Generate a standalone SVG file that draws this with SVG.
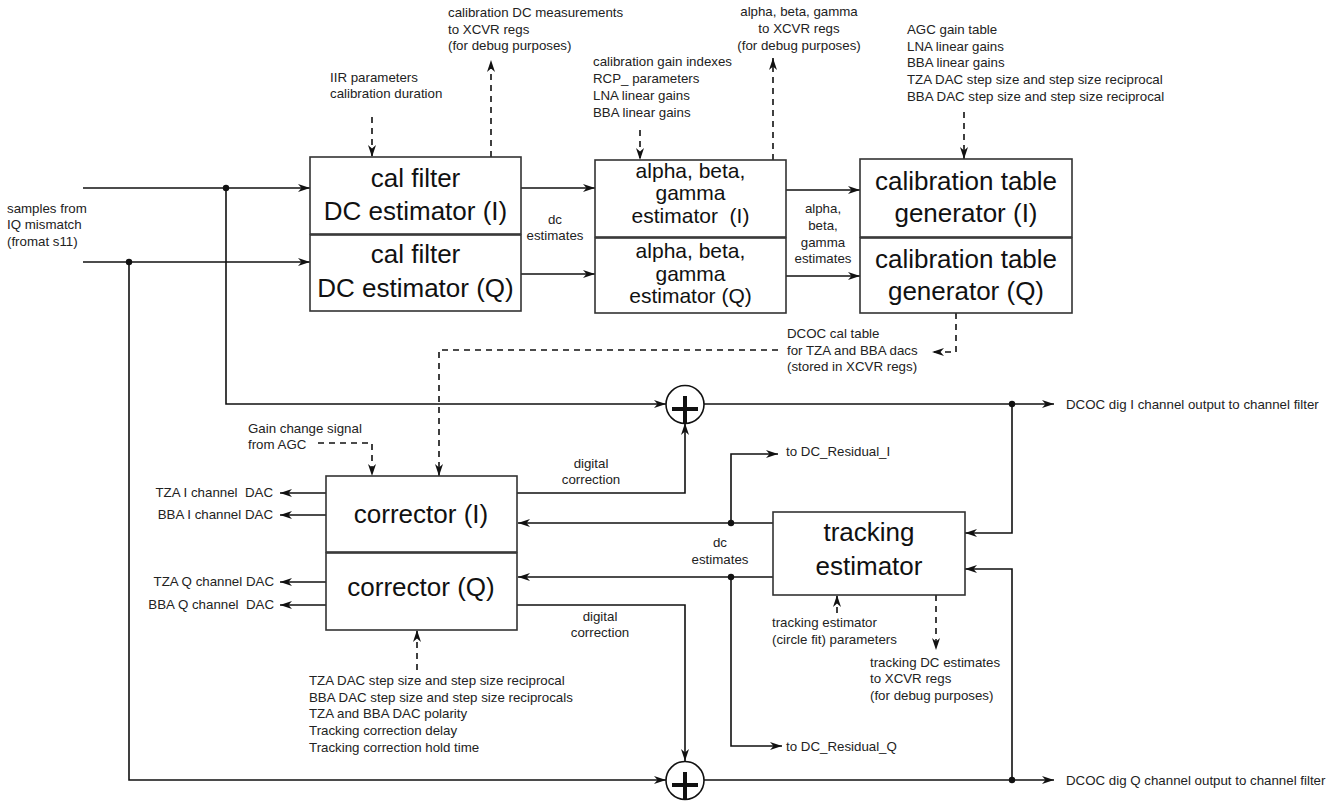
<svg xmlns="http://www.w3.org/2000/svg" width="1331" height="801" viewBox="0 0 1331 801">
<defs>
<marker id="ah" viewBox="0 0 12 8" refX="12" refY="4" markerWidth="12" markerHeight="8" markerUnits="userSpaceOnUse" orient="auto"><path d="M0,0 L12,4 L0,8 L3.5,4 z" fill="#111"/></marker>
</defs>
<style>
.box{fill:#fff;stroke:#333;stroke-width:1.6}
.big{font-family:"Liberation Sans",Arial,Helvetica,sans-serif;font-size:26px;fill:#111;text-anchor:middle}
.mid{font-family:"Liberation Sans",Arial,Helvetica,sans-serif;font-size:21px;fill:#111;text-anchor:middle}
.sm{font-family:"Liberation Sans",Arial,Helvetica,sans-serif;font-size:13.3px;fill:#222}
.c{text-anchor:middle}
.e{text-anchor:end}
.ln{fill:none;stroke:#111;stroke-width:1.6}
.da{fill:none;stroke:#111;stroke-width:1.6;stroke-dasharray:6 5}
.arr{marker-end:url(#ah)}
.dot{fill:#111}
.sum{fill:#fff;stroke:#111;stroke-width:1.6}
.plus{stroke:#111;stroke-width:4}
</style>
<rect width="1331" height="801" fill="#fff"/>

<g id="connectors">
<path class="ln arr" d="M83,188 H310"/>
<path class="ln arr" d="M83,262 H310"/>
<path class="ln arr" d="M226,188 V404 H666"/>
<path class="ln arr" d="M129,262 V780 H666"/>
<path class="ln arr" d="M521,188 H595"/>
<path class="ln arr" d="M521,274 H595"/>
<path class="ln arr" d="M786,190 H860"/>
<path class="ln arr" d="M786,276 H860"/>
<path class="da arr" d="M372,117 V157"/>
<path class="da arr" d="M491,157 V60"/>
<path class="da arr" d="M640,130 V160"/>
<path class="da arr" d="M773,160 V58"/>
<path class="da arr" d="M964,112 V159"/>
<path class="da arr" d="M956,313 V352 H932"/>
<path class="da arr" d="M778,350 H439 V476"/>
<path class="da arr" d="M318,443 H372 V476"/>
<path class="ln arr" d="M704,404 H1054"/>
<path class="ln arr" d="M1012,404 V533 H965"/>
<path class="ln arr" d="M704,780 H1054"/>
<path class="ln arr" d="M1012,780 V569 H965"/>
<path class="ln arr" d="M517,493 H685 V423"/>
<path class="ln arr" d="M517,605 H685 V761"/>
<path class="ln arr" d="M773,523 H518"/>
<path class="ln arr" d="M773,577 H518"/>
<path class="ln arr" d="M731,523 V454 H778"/>
<path class="ln arr" d="M731,577 V746 H782"/>
<path class="ln arr" d="M326,493 H280"/>
<path class="ln arr" d="M326,515 H280"/>
<path class="ln arr" d="M326,582 H280"/>
<path class="ln arr" d="M326,605 H280"/>
<path class="da arr" d="M417,670 V630"/>
<path class="da arr" d="M837,613 V595"/>
<path class="da arr" d="M936,595 V650"/>
<circle class="dot" cx="226" cy="188" r="3.2"/>
<circle class="dot" cx="129" cy="262" r="3.2"/>
<circle class="dot" cx="1012" cy="404" r="3.2"/>
<circle class="dot" cx="1012" cy="780" r="3.2"/>
<circle class="dot" cx="731" cy="523" r="3.2"/>
<circle class="dot" cx="731" cy="577" r="3.2"/>
</g>

<g id="calfilter_i"><rect class="box" x="310" y="157" width="211" height="77"/><text class="big" x="415.5" y="187">cal filter</text><text class="big" x="415.5" y="220">DC estimator (I)</text></g>
<g id="calfilter_q"><rect class="box" x="310" y="235" width="211" height="76"/><text class="big" x="415.5" y="263">cal filter</text><text class="big" x="415.5" y="297">DC estimator (Q)</text></g>

<g id="abg_i"><rect class="box" x="595" y="160" width="191" height="77"/><text class="mid" x="690.5" y="178">alpha, beta,</text><text class="mid" x="690.5" y="200">gamma</text><text class="mid" x="690.5" y="223" xml:space="preserve">estimator  (I)</text></g>
<g id="abg_q"><rect class="box" x="595" y="238" width="191" height="75"/><text class="mid" x="690.5" y="258">alpha, beta,</text><text class="mid" x="690.5" y="281">gamma</text><text class="mid" x="690.5" y="303">estimator (Q)</text></g>

<g id="caltable_i"><rect class="box" x="860" y="159" width="212" height="78"/><text class="big" x="966" y="190">calibration table</text><text class="big" x="966" y="222">generator (I)</text></g>
<g id="caltable_q"><rect class="box" x="860" y="238" width="212" height="75"/><text class="big" x="966" y="268">calibration table</text><text class="big" x="966" y="300">generator (Q)</text></g>

<g id="corrector_i"><rect class="box" x="326" y="476" width="191" height="76"/><text class="big" x="421" y="523">corrector (I)</text></g>
<g id="corrector_q"><rect class="box" x="326" y="553" width="191" height="77"/><text class="big" x="421" y="596">corrector (Q)</text></g>

<g id="tracking"><rect class="box" x="773" y="512" width="192" height="83"/><text class="big" x="869" y="541">tracking</text><text class="big" x="869" y="575">estimator</text></g>

<g id="adder_i"><circle class="sum" cx="685" cy="404.5" r="19"/><path class="plus" d="M672,409 H698 M685,396 V423"/></g>
<g id="adder_q"><circle class="sum" cx="685" cy="780.5" r="19"/><path class="plus" d="M672,785 H698 M685,772 V799"/></g>

<g id="labels">
<text class="sm" x="7" y="213">samples from</text>
<text class="sm" x="7" y="229">IQ mismatch</text>
<text class="sm" x="7" y="246">(fromat s11)</text>
<text class="sm" x="330" y="82">IIR parameters</text>
<text class="sm" x="330" y="98">calibration duration</text>
<text class="sm" x="448" y="17">calibration DC measurements</text>
<text class="sm" x="448" y="34">to XCVR regs</text>
<text class="sm" x="448" y="50">(for debug purposes)</text>
<text class="sm" x="593" y="66">calibration gain indexes</text>
<text class="sm" x="593" y="83">RCP_ parameters</text>
<text class="sm" x="593" y="100">LNA linear gains</text>
<text class="sm" x="593" y="117">BBA linear gains</text>
<text class="sm c" x="799" y="16">alpha, beta, gamma</text>
<text class="sm c" x="799" y="33">to XCVR regs</text>
<text class="sm c" x="799" y="50">(for debug purposes)</text>
<text class="sm" x="907" y="34">AGC gain table</text>
<text class="sm" x="907" y="51">LNA linear gains</text>
<text class="sm" x="907" y="67">BBA linear gains</text>
<text class="sm" x="907" y="84">TZA DAC step size and step size reciprocal</text>
<text class="sm" x="907" y="101">BBA DAC step size and step size reciprocal</text>
<text class="sm c" x="555" y="224">dc</text>
<text class="sm c" x="555" y="240">estimates</text>
<text class="sm c" x="823" y="213">alpha,</text>
<text class="sm c" x="823" y="230">beta,</text>
<text class="sm c" x="823" y="247">gamma</text>
<text class="sm c" x="823" y="263">estimates</text>
<text class="sm" x="787" y="338">DCOC cal table</text>
<text class="sm" x="787" y="355">for TZA and BBA dacs</text>
<text class="sm" x="787" y="371">(stored in XCVR regs)</text>
<text class="sm" x="1066" y="409">DCOC dig I channel output to channel filter</text>
<text class="sm" x="1066" y="785">DCOC dig Q channel output to channel filter</text>
<text class="sm" x="248" y="433">Gain change signal</text>
<text class="sm" x="248" y="449">from AGC</text>
<text class="sm e" x="273" y="497" xml:space="preserve">TZA I channel  DAC</text>
<text class="sm e" x="273" y="519">BBA I channel DAC</text>
<text class="sm e" x="274" y="586">TZA Q channel DAC</text>
<text class="sm e" x="274" y="609" xml:space="preserve">BBA Q channel  DAC</text>
<text class="sm c" x="591" y="468">digital</text>
<text class="sm c" x="591" y="484">correction</text>
<text class="sm c" x="600" y="621">digital</text>
<text class="sm c" x="600" y="637">correction</text>
<text class="sm" x="786" y="456">to DC_Residual_I</text>
<text class="sm" x="786" y="751">to DC_Residual_Q</text>
<text class="sm c" x="720" y="547">dc</text>
<text class="sm c" x="720" y="564">estimates</text>
<text class="sm" x="772" y="627">tracking estimator</text>
<text class="sm" x="772" y="644">(circle fit) parameters</text>
<text class="sm" x="870" y="667">tracking DC estimates</text>
<text class="sm" x="870" y="683">to XCVR regs</text>
<text class="sm" x="870" y="700">(for debug purposes)</text>
<text class="sm" x="309" y="685">TZA DAC step size and step size reciprocal</text>
<text class="sm" x="309" y="702">BBA DAC step size and step size reciprocals</text>
<text class="sm" x="309" y="718">TZA and BBA DAC polarity</text>
<text class="sm" x="309" y="735">Tracking correction delay</text>
<text class="sm" x="309" y="752">Tracking correction hold time</text>
</g>
</svg>
